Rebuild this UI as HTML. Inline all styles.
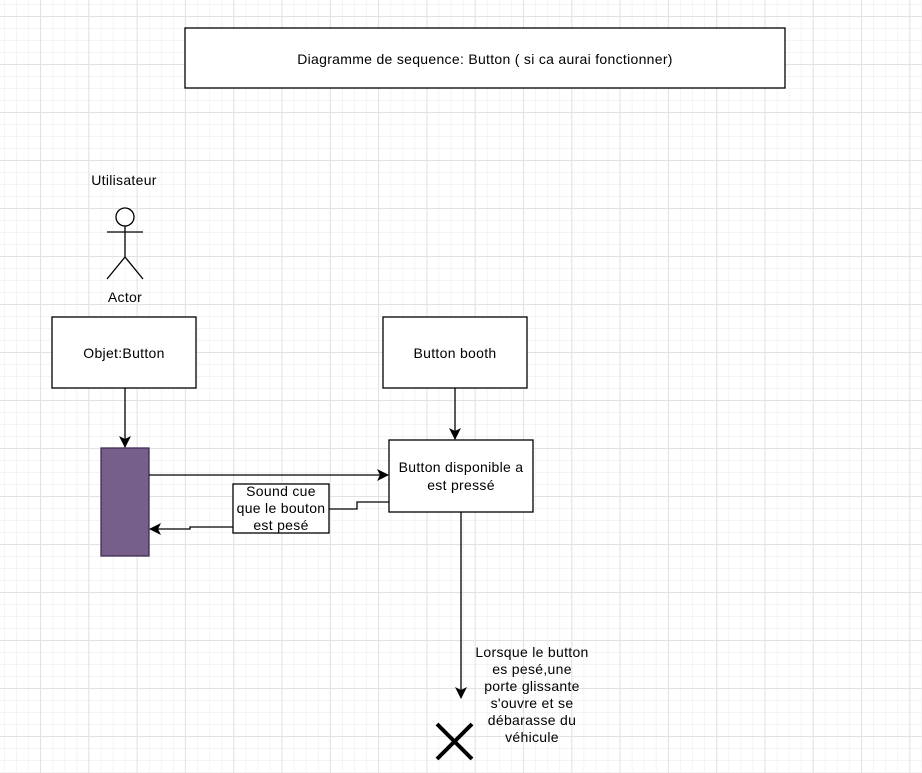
<!DOCTYPE html>
<html><head><style>body{margin:0;background:#fff}svg{display:block}text{font-family:"Liberation Sans",sans-serif;font-size:14px;letter-spacing:0.3px;fill:#000}</style></head><body>
<svg width="922" height="773" xmlns="http://www.w3.org/2000/svg">
<defs>
<pattern id="mi" x="4" y="4" width="12.07" height="12" patternUnits="userSpaceOnUse"><path d="M0 0.5H13M0.5 0V12" stroke="#f4f4f4" fill="none"/></pattern>
<pattern id="ma" x="40" y="16" width="48.3" height="48" patternUnits="userSpaceOnUse"><path d="M0 0.5H49M0.5 0V48" stroke="#e2e2e2" fill="none"/></pattern>
<marker id="ar" markerWidth="12" markerHeight="12" refX="11" refY="6" orient="auto" markerUnits="userSpaceOnUse"><path d="M0 0L12 6L0 12L3 6Z" fill="#000"/></marker>
</defs>
<rect width="922" height="773" fill="url(#mi)"/>
<rect width="922" height="773" fill="url(#ma)"/>
<g stroke="#000" stroke-width="1.3" fill="#fff">
<rect x="185" y="28" width="600" height="60"/>
<rect x="52" y="317" width="144" height="71"/>
<rect x="383" y="317" width="144" height="71"/>
<rect x="389" y="440" width="144" height="72"/>
<rect x="101" y="448" width="48" height="108" fill="#76608a" stroke="#432d57"/>
<rect x="233" y="484" width="96" height="49"/>
</g>
<g stroke="#000" stroke-width="1.3" fill="none">
<circle cx="125" cy="217" r="9" fill="#fff"/>
<path d="M107 232H143M125 226V257L107 279M125 257L143 279"/>
<path d="M125 388V447" marker-end="url(#ar)"/>
<path d="M455 388V439" marker-end="url(#ar)"/>
<path d="M149 475H388" marker-end="url(#ar)"/>
<path d="M389 502H357V509H329"/>
<path d="M233 527H190V529H150" marker-end="url(#ar)"/>
<path d="M461 512V698" marker-end="url(#ar)"/>
<path d="M437 724L472 759M472 724L437 759" stroke-width="4"/>
</g>
<text x="485" y="64" text-anchor="middle">Diagramme de sequence: Button ( si ca aurai fonctionner)</text>
<text x="124" y="185" text-anchor="middle">Utilisateur</text>
<text x="125" y="302" text-anchor="middle">Actor</text>
<text x="124" y="358" text-anchor="middle">Objet:Button</text>
<text x="455" y="358" text-anchor="middle">Button booth</text>
<text x="461" y="472" text-anchor="middle">Button disponible  a</text>
<text x="461" y="490" text-anchor="middle">est pressé</text>
<text x="281" y="496" text-anchor="middle">Sound cue</text>
<text x="281" y="513" text-anchor="middle">que le bouton</text>
<text x="281" y="530" text-anchor="middle">est pesé</text>
<g text-anchor="middle">
<text x="532" y="657">Lorsque le button</text>
<text x="532" y="674">es pesé,une</text>
<text x="532" y="691">porte glissante</text>
<text x="532" y="708">s'ouvre et se</text>
<text x="532" y="725">débarasse du</text>
<text x="532" y="742">véhicule</text>
</g>
</svg>
</body></html>
